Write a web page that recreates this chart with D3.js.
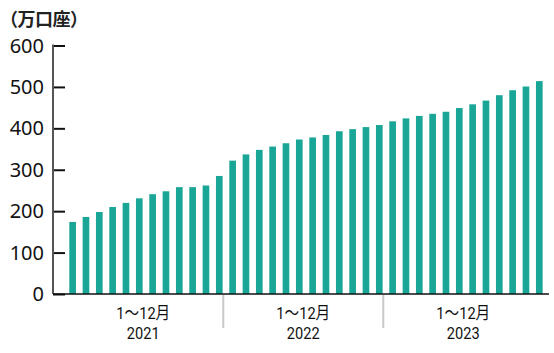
<!doctype html>
<html>
<head>
<meta charset="utf-8">
<script src="https://cdn.jsdelivr.net/npm/d3@7"></script>
<style>
  body { margin: 0; background: #fff; }
  svg { display: block; }
</style>
</head>
<body>
<div id="main"></div>
<script>
// 口座数（万口座）, 2021年1月〜2023年12月
var years = ['2021', '2022', '2023'];
var months = d3.range(1, 13);
var values2021 = [174, 186, 198, 210, 220, 231, 241, 248, 258, 258, 262, 285];
var values2022 = [322, 337, 348, 356, 364, 373, 378, 384, 393, 398, 403, 408];
var values2023 = [417, 424, 430, 435, 440, 449, 458, 467, 480, 492, 501, 514];
var yTicks = [0, 100, 200, 300, 400, 500, 600];
var unitLabel = '（万口座）';
var periodLabel = '1〜12月';

var data = [];
[values2021, values2022, values2023].forEach(function(vals, yi) {
  vals.forEach(function(v, mi) {
    data.push({ key: years[yi] + '-' + months[mi], year: years[yi], value: v });
  });
});

var W = 554, H = 353;
var svg = d3.select('#main').append('svg')
  .attr('width', W)
  .attr('height', H);

var x = d3.scaleBand()
  .domain(data.map(function(d) { return d.key; }))
  .range([63.3, 543.3])
  .padding(0);

var y = d3.scaleLinear()
  .domain([0, 600])
  .range([294, 45.5]);

var axisX0 = 53;
var barW = x.bandwidth() * 0.5;
var barOff = x.bandwidth() * 0.45;

// bars
svg.append('g').selectAll('rect')
  .data(data)
  .enter().append('rect')
  .attr('x', function(d) { return x(d.key) + barOff; })
  .attr('y', function(d) { return y(d.value); })
  .attr('width', barW)
  .attr('height', function(d) { return y(0) - y(d.value); })
  .attr('fill', '#1aa696');

// y axis: ticks point inward
var yAxis = d3.axisRight(y)
  .tickValues(yTicks)
  .tickSize(12)
  .tickFormat('');
var gy = svg.append('g')
  .attr('transform', 'translate(' + axisX0 + ',0)')
  .call(yAxis);
gy.select('.domain').remove();
gy.selectAll('.tick line')
  .attr('stroke', '#111')
  .attr('stroke-width', 2);

svg.append('line')
  .attr('x1', axisX0).attr('x2', axisX0)
  .attr('y1', y(600) - 1).attr('y2', y(0))
  .attr('stroke', '#555')
  .attr('stroke-width', 2);

// y tick labels
svg.append('g').selectAll('text')
  .data(yTicks)
  .enter().append('text')
  .attr('x', 44)
  .attr('y', function(d) { return y(d); })
  .attr('dy', '0.35em')
  .attr('text-anchor', 'end')
  .style('font-family', '"Noto Sans", sans-serif')
  .style('font-size', '20px')
  .style('fill', '#111')
  .text(function(d) { return d; });

// x axis line
svg.append('line')
  .attr('x1', axisX0).attr('x2', 549)
  .attr('y1', y(0)).attr('y2', y(0))
  .attr('stroke', '#111')
  .attr('stroke-width', 1.5);

// year separators
var sepKeys = [years[1] + '-1', years[2] + '-1'];
svg.append('g').selectAll('line')
  .data(sepKeys)
  .enter().append('line')
  .attr('x1', function(d) { return x(d); })
  .attr('x2', function(d) { return x(d); })
  .attr('y1', y(0) + 1)
  .attr('y2', 328)
  .attr('stroke', '#c8c8c8')
  .attr('stroke-width', 2);

// year labels
var yearG = svg.append('g').selectAll('g')
  .data(years)
  .enter().append('g')
  .attr('transform', function(d) {
    var cx = (x(d + '-1') + x(d + '-12') + x.bandwidth()) / 2;
    return 'translate(' + cx + ',0)';
  });

yearG.append('text')
  .attr('transform', 'translate(0,319) scale(0.86,1)')
  .attr('text-anchor', 'middle')
  .style('font-family', 'Roboto, "Noto Sans CJK JP", sans-serif')
  .style('font-size', '17px')
  .style('fill', '#111')
  .text(periodLabel);

yearG.append('text')
  .attr('transform', 'translate(0,339) scale(0.86,1)')
  .attr('text-anchor', 'middle')
  .style('font-family', 'Roboto, sans-serif')
  .style('font-size', '17px')
  .style('fill', '#111')
  .text(function(d) { return d; });

// unit label
svg.append('text')
  .attr('x', 0)
  .attr('y', 26)
  .style('font-family', '"Noto Sans CJK JP", sans-serif')
  .style('font-size', '18px')
  .style('font-weight', 'bold')
  .style('letter-spacing', '-0.5px')
  .style('fill', '#222')
  .text(unitLabel);
</script>
</body>
</html>
